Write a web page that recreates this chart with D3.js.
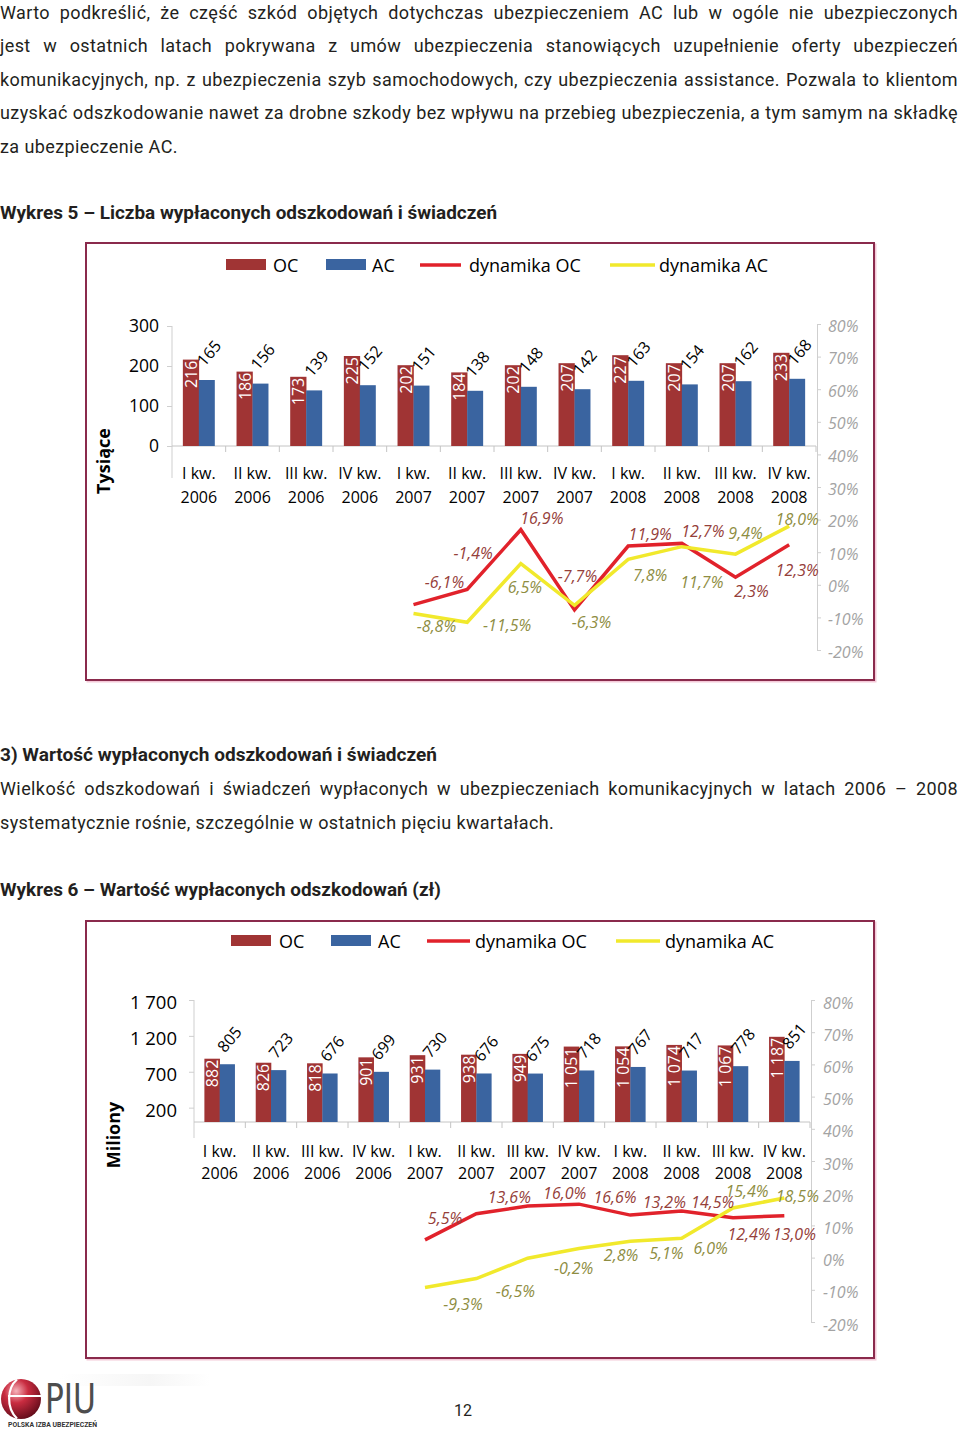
<!DOCTYPE html>
<html><head><meta charset="utf-8">
<script src="https://cdn.jsdelivr.net/npm/d3@7/dist/d3.min.js"></script>
<style>body{margin:0;background:#fff}svg{display:block}</style>
</head><body><svg id="page" width="960" height="1429"></svg>
<script>
// ---------- DATA ----------
const quarters = ["I kw.","II kw.","III kw.","IV kw.","I kw.","II kw.","III kw.","IV kw.","I kw.","II kw.","III kw.","IV kw."];
const years = ["2006","2006","2006","2006","2007","2007","2007","2007","2008","2008","2008","2008"];
const seriesNames = ["OC","AC","dynamika OC","dynamika AC"];

// Wykres 5 – liczba (tysiące)
const countOC = [216,186,173,225,202,184,202,207,227,207,207,233];
const countAC = [165,156,139,152,151,138,148,142,163,154,162,168];
const countDynOC = [null,null,null,null,-6.1,-1.4,16.9,-7.7,11.9,12.7,2.3,12.3];
const countDynAC = [null,null,null,null,-8.8,-11.5,6.5,-6.3,7.8,11.7,9.4,18.0];
const countTicks = [0,100,200,300];

// Wykres 6 – wartość (miliony zł)
const valueOC = [882,826,818,901,931,938,949,1051,1054,1074,1067,1187];
const valueAC = [805,723,676,699,730,676,675,718,767,717,778,851];
const valueDynOC = [null,null,null,null,5.5,13.6,16.0,16.6,13.2,14.5,12.4,13.0];
const valueDynAC = [null,null,null,null,-9.3,-6.5,-0.2,2.8,5.1,6.0,15.4,18.5];
const valueTicks = [200,700,1200,1700];

const pctTicks = [-20,-10,0,10,20,30,40,50,60,70,80];

// ---------- TEXT ----------
const para1 = [
  "Warto podkreślić, że część szkód objętych dotychczas ubezpieczeniem AC lub w ogóle nie ubezpieczonych",
  "jest w ostatnich latach pokrywana z umów ubezpieczenia stanowiących uzupełnienie oferty ubezpieczeń",
  "komunikacyjnych, np. z ubezpieczenia szyb samochodowych, czy ubezpieczenia assistance. Pozwala to klientom",
  "uzyskać odszkodowanie nawet za drobne szkody bez wpływu na przebieg ubezpieczenia, a tym samym na składkę",
  "za ubezpieczenie AC."
];
const title5 = "Wykres 5 – Liczba wypłaconych odszkodowań i świadczeń";
const heading3 = "3) Wartość wypłaconych odszkodowań i świadczeń";
const para2 = [
  "Wielkość odszkodowań i świadczeń wypłaconych w ubezpieczeniach komunikacyjnych w latach 2006 – 2008",
  "systematycznie rośnie, szczególnie w ostatnich pięciu kwartałach."
];
const title6 = "Wykres 6 – Wartość wypłaconych odszkodowań (zł)";

// ---------- LAYOUT (label offsets in px, relative to data points) ----------
const layout5 = {
  frame:[86,243,788,437], x0:172, x1:816, yZero:446, yTop:326, yMax:300, axisExt:32,
  leftLabelX:159, leftDy:-2, leftSize:17.5,
  rx:817, rBottom:650, rTop:324, rLabelX:828, rDy:1,
  catY:[479,503], acLift:27,
  legendY:265, legend:{oc:[226,273], ac:[326,372], doc:[420,461,469], dac:[610,655,659]},
  title:["Tysiące",103,461],
  redDx:[31,6,21,3,22,21,16,8], redDy:[-23,-36,-12,-34,-12,-12,14,25],
  yelDx:[23,40,4,17,22,20,10,8], yelDy:[13,3,23,17,16,35,-21,-7]
};
const layout6 = {
  frame:[86,921,788,437], x0:194, x1:810, yZero:1122, yTop:1000, yMax:1700, axisExt:16,
  leftLabelX:177, leftDy:1, leftSize:18.5,
  rx:811, rBottom:1322, rTop:1000, rLabelX:823, rDy:2,
  catY:[1157,1179], acLift:25,
  legendY:941, legend:{oc:[231,279], ac:[331,378], doc:[427,470,475], dac:[616,660,665]},
  title:["Miliony",113,1135],
  redDx:[20,33,37,36,34,31,16,10], redDy:[-22,-17,-13,-7,-13,-9,16,18],
  yelDx:[38,39,46,42,36,29,14,13], yelDy:[16,12,10,6,12,10,-17,-2]
};

const COL = {oc:"#a03434", ac:"#3a64a0", red:"#e1222b", yel:"#f1e92c",
             redTxt:"#95403a", yelTxt:"#8e8d42", axis:"#cfcfcf", frame:"#8a2a4c", pct:"#a3a3a3"};
const CF = "'Open Sans', 'Liberation Sans', sans-serif";
const BF = "Roboto, 'Open Sans', sans-serif";

const svg = d3.select("#page");
svg.append("rect").attr("width",960).attr("height",1429).attr("fill","#fff");

// ---------- BODY TEXT ----------
function textLine(str, x, y, opts={}) {
  const t = svg.append("text").attr("x",x).attr("y",y)
    .attr("font-family",BF).attr("font-size",opts.size||18)
    .attr("letter-spacing", opts.bold ? 0 : 0.4)
    .attr("font-weight",opts.bold?"700":"400").attr("fill","#231f20").text(str);
  if (opts.justify) {
    const nat = t.node().getComputedTextLength();
    const n = (str.match(/ /g)||[]).length;
    if (n && opts.justify > nat) t.attr("word-spacing", (opts.justify - nat)/n);
  }
  if (opts.fit) t.attr("textLength", opts.fit).attr("lengthAdjust","spacingAndGlyphs");
  return t;
}
para1.forEach((s,i)=> textLine(s, 0, 18.5 + 33.5*i, {justify: i<4 ? 958 : 0}));
textLine(title5, 0, 219, {bold:true, size:19, fit:497});
textLine(heading3, 0, 761, {bold:true, size:19, fit:437});
para2.forEach((s,i)=> textLine(s, 0, 795 + 34*i, {justify: i<1 ? 958 : 0}));
textLine(title6, 0, 896, {bold:true, size:19, fit:441});
svg.append("text").attr("x",463).attr("y",1416).attr("text-anchor","middle")
  .attr("font-family",BF).attr("font-size",16).attr("fill","#231f20").text("12");

// ---------- CHART ----------
const fmtNum = v => String(v).replace(/\B(?=(\d{3})+(?!\d))/g, "\u00a0");
const fmtPct = v => String(v.toFixed(1)).replace(".", ",") + "%";

function drawChart(d, L) {
  const g = svg.append("g");
  const [fx,fy,fw,fh] = L.frame;
  g.append("rect").attr("x",fx+1.5).attr("y",fy+1.5).attr("width",fw).attr("height",fh)
    .attr("fill","none").attr("stroke","#f4c9d8").attr("stroke-width",2);
  g.append("rect").attr("x",fx).attr("y",fy).attr("width",fw).attr("height",fh)
    .attr("fill","#fff").attr("stroke",COL.frame).attr("stroke-width",2);

  const idx = d3.range(d.oc.length);
  const x = d3.scaleBand().domain(idx).range([L.x0, L.x1]).paddingInner(0).paddingOuter(0);
  const xs = d3.scaleBand().domain(["OC","AC"]).range([0, x.bandwidth()]).paddingInner(0).paddingOuter(0.68);
  const yL = d3.scaleLinear().domain([0, L.yMax]).range([L.yZero, L.yTop]);
  const yR = d3.scaleLinear().domain([-20, 80]).range([L.rBottom, L.rTop]);
  const cx = i => x(i) + x.bandwidth()/2;

  // left axis
  const la = g.append("g").attr("transform",`translate(${L.x0},0)`)
    .call(d3.axisLeft(yL).tickValues(d.ticks).tickSize(5).tickSizeOuter(0).tickPadding(L.x0-L.leftLabelX-5).tickFormat(fmtNum));
  la.select(".domain").remove();
  la.selectAll(".tick line").attr("stroke",COL.axis);
  la.selectAll("text").attr("font-family",CF).attr("font-size",L.leftSize).attr("fill","#000")
    .attr("dy",null).attr("y",L.leftDy).attr("dominant-baseline","central");
  g.append("line").attr("x1",L.x0).attr("x2",L.x0).attr("y1",yL(L.yMax)).attr("y2",L.yZero+L.axisExt)
    .attr("stroke",COL.axis);

  // right axis
  const ra = g.append("g").attr("transform",`translate(${L.rx},0)`)
    .call(d3.axisRight(yR).tickValues(pctTicks).tickSize(4).tickSizeOuter(0).tickPadding(L.rLabelX-L.rx-4).tickFormat(v=>v+"%"));
  ra.select(".domain").attr("stroke",COL.axis);
  ra.selectAll(".tick line").attr("stroke",COL.axis);
  ra.selectAll("text").attr("font-family",CF).attr("font-size",16).attr("font-style","italic")
    .attr("fill",COL.pct).attr("dy",null).attr("y",L.rDy).attr("dominant-baseline","central");

  // baseline + category ticks
  g.append("line").attr("x1",L.x0).attr("x2",L.x1).attr("y1",L.yZero).attr("y2",L.yZero).attr("stroke","#c4c4c4");
  g.selectAll(".ctick").data(d3.range(1, idx.length+1)).join("line")
    .attr("x1",i=>L.x0 + i*x.step()).attr("x2",i=>L.x0 + i*x.step())
    .attr("y1",L.yZero).attr("y2",L.yZero+6).attr("stroke","#c4c4c4");

  // category labels
  const ct = g.selectAll(".cat").data(idx).join("text")
    .attr("font-family",CF).attr("font-size",16).attr("fill","#000").attr("text-anchor","middle");
  ct.append("tspan").attr("x",cx).attr("y",L.catY[0]).text(i=>quarters[i]);
  ct.append("tspan").attr("x",cx).attr("y",L.catY[1]).text(i=>years[i]);

  // bars
  g.selectAll(".boc").data(idx).join("rect")
    .attr("x",i=>x(i)+xs("OC")).attr("width",xs.bandwidth()+0.3)
    .attr("y",i=>yL(d.oc[i])).attr("height",i=>L.yZero-yL(d.oc[i])).attr("fill",COL.oc);
  g.selectAll(".bac").data(idx).join("rect")
    .attr("x",i=>x(i)+xs("AC")).attr("width",xs.bandwidth())
    .attr("y",i=>yL(d.ac[i])).attr("height",i=>L.yZero-yL(d.ac[i])).attr("fill",COL.ac);

  // bar labels
  g.selectAll(".loc").data(idx).join("text")
    .attr("transform",i=>`translate(${x(i)+xs("OC")+xs.bandwidth()/2},${yL(d.oc[i])+1}) rotate(-90)`)
    .attr("text-anchor","end").attr("dominant-baseline","central")
    .attr("font-family",CF).attr("font-size",16).attr("fill","#fff").text(i=>fmtNum(d.oc[i]));
  g.selectAll(".lac").data(idx).join("text")
    .attr("transform",i=>`translate(${x(i)+xs("AC")+xs.bandwidth()/2+2},${yL(d.ac[i])-L.acLift}) rotate(-50)`)
    .attr("text-anchor","middle").attr("dominant-baseline","central")
    .attr("font-family",CF).attr("font-size",16).attr("fill","#000").text(i=>fmtNum(d.ac[i]));

  // lines
  const line = d3.line().defined(p=>p.v!=null).x(p=>cx(p.i)).y(p=>yR(p.v));
  const pts = arr => arr.map((v,i)=>({v,i}));
  g.append("path").attr("d",line(pts(d.dynOC))).attr("fill","none").attr("stroke",COL.red)
    .attr("stroke-width",3.5).attr("stroke-linejoin","miter");
  g.append("path").attr("d",line(pts(d.dynAC))).attr("fill","none").attr("stroke",COL.yel)
    .attr("stroke-width",3.5).attr("stroke-linejoin","miter");

  // line labels
  const lab = (arr, dxs, dys, col) => {
    const p = pts(arr).filter(p=>p.v!=null);
    g.selectAll(null).data(p).join("text")
      .attr("x",(q,k)=>cx(q.i)+dxs[k]).attr("y",(q,k)=>yR(q.v)+dys[k])
      .attr("text-anchor","middle").attr("dominant-baseline","central")
      .attr("font-family",CF).attr("font-size",16).attr("font-style","italic").attr("fill",col)
      .text(q=>fmtPct(q.v));
  };
  lab(d.dynOC, L.redDx, L.redDy, COL.redTxt);
  lab(d.dynAC, L.yelDx, L.yelDy, COL.yelTxt);

  // legend
  const ly = L.legendY, lg = L.legend;
  const lt = (xx, s) => g.append("text").attr("x",xx).attr("y",ly).attr("dominant-baseline","central")
    .attr("font-family",CF).attr("font-size",18).attr("fill","#000").text(s);
  g.append("rect").attr("x",lg.oc[0]).attr("y",ly-6).attr("width",40).attr("height",11).attr("fill",COL.oc);
  lt(lg.oc[1], seriesNames[0]);
  g.append("rect").attr("x",lg.ac[0]).attr("y",ly-6).attr("width",40).attr("height",11).attr("fill",COL.ac);
  lt(lg.ac[1], seriesNames[1]);
  g.append("line").attr("x1",lg.doc[0]).attr("x2",lg.doc[1]).attr("y1",ly).attr("y2",ly)
    .attr("stroke",COL.red).attr("stroke-width",3.5);
  lt(lg.doc[2], seriesNames[2]);
  g.append("line").attr("x1",lg.dac[0]).attr("x2",lg.dac[1]).attr("y1",ly).attr("y2",ly)
    .attr("stroke",COL.yel).attr("stroke-width",3.5);
  lt(lg.dac[2], seriesNames[3]);

  // y title
  g.append("text").attr("transform",`translate(${L.title[1]},${L.title[2]}) rotate(-90)`)
    .attr("text-anchor","middle").attr("dominant-baseline","central")
    .attr("font-family",CF).attr("font-size",18).attr("font-weight","700").attr("fill","#000")
    .text(L.title[0]);
}

drawChart({oc:countOC, ac:countAC, dynOC:countDynOC, dynAC:countDynAC, ticks:countTicks}, layout5);
drawChart({oc:valueOC, ac:valueAC, dynOC:valueDynOC, dynAC:valueDynAC, ticks:valueTicks}, layout6);

// ---------- LOGO ----------
const defs = svg.append("defs");
const rg = defs.append("radialGradient").attr("id","sph").attr("cx","38%").attr("cy","30%").attr("r","75%");
rg.append("stop").attr("offset","0%").attr("stop-color","#f6b3bb");
rg.append("stop").attr("offset","40%").attr("stop-color","#c92c40");
rg.append("stop").attr("offset","100%").attr("stop-color","#5e0a18");
const lgd = defs.append("linearGradient").attr("id","band").attr("x1","0").attr("x2","1");
lgd.append("stop").attr("offset","0%").attr("stop-color","#fff");
lgd.append("stop").attr("offset","60%").attr("stop-color","#f0f0f0");
lgd.append("stop").attr("offset","100%").attr("stop-color","#fff");
svg.append("rect").attr("x",60).attr("y",1374).attr("width",150).attr("height",12).attr("fill","url(#band)").attr("opacity",0.6);
svg.append("circle").attr("cx",21).attr("cy",1399).attr("r",20).attr("fill","url(#sph)");
svg.append("path").attr("d","M 17 1379.5 C 7 1388, 6 1408, 17 1418.5").attr("fill","none").attr("stroke","#fff").attr("stroke-width",2.2);
svg.append("path").attr("d","M 8 1396 L 41 1396").attr("fill","none").attr("stroke","#fff").attr("stroke-width",2);
svg.append("text").attr("x",45).attr("y",1413).attr("font-family","'DejaVu Sans Condensed', 'DejaVu Sans', sans-serif")
  .attr("font-size",40).attr("fill","#4d4d4d").attr("textLength",51).attr("lengthAdjust","spacingAndGlyphs").text("PIU");
svg.append("text").attr("x",8).attr("y",1427).attr("font-family",BF).attr("font-weight","700")
  .attr("font-size",6.5).attr("fill","#333").attr("textLength",89).attr("lengthAdjust","spacingAndGlyphs").text("POLSKA IZBA UBEZPIECZEŃ");
</script></body></html>
